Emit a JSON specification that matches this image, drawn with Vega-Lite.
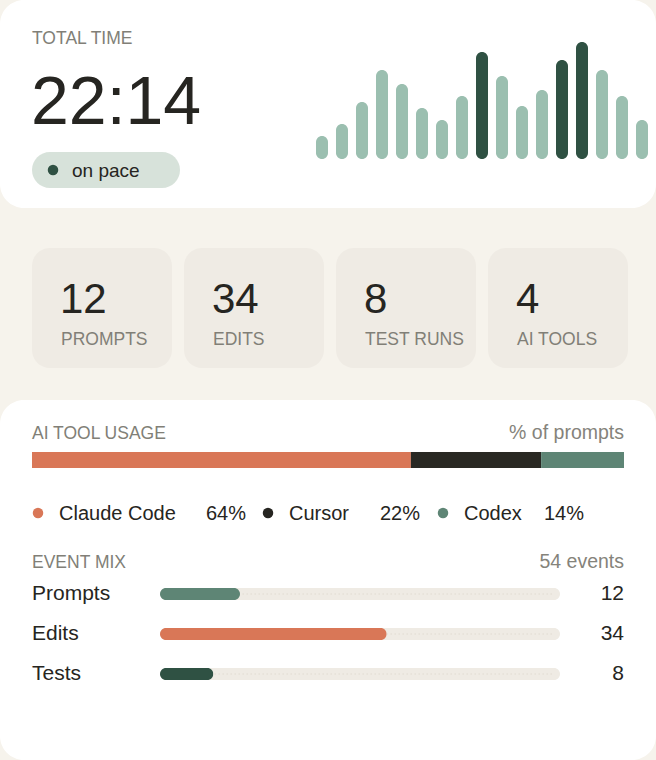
{
  "$schema": "https://vega.github.io/schema/vega-lite/v6.json",
  "background": "#f6f3ec",
  "padding": 0,
  "spacing": 0,
  "config": {"view": {"stroke": null}, "font": "Liberation Sans", "text": {"font": "Liberation Sans"}},
  "datasets": {
    "pace": [
      {"slot": 1, "minutes": 23, "phase": "steady"},
      {"slot": 2, "minutes": 35, "phase": "steady"},
      {"slot": 3, "minutes": 57, "phase": "steady"},
      {"slot": 4, "minutes": 89, "phase": "steady"},
      {"slot": 5, "minutes": 75, "phase": "steady"},
      {"slot": 6, "minutes": 51, "phase": "steady"},
      {"slot": 7, "minutes": 39, "phase": "steady"},
      {"slot": 8, "minutes": 63, "phase": "steady"},
      {"slot": 9, "minutes": 107, "phase": "peak"},
      {"slot": 10, "minutes": 83, "phase": "steady"},
      {"slot": 11, "minutes": 53, "phase": "steady"},
      {"slot": 12, "minutes": 69, "phase": "steady"},
      {"slot": 13, "minutes": 99, "phase": "peak"},
      {"slot": 14, "minutes": 117, "phase": "peak"},
      {"slot": 15, "minutes": 89, "phase": "steady"},
      {"slot": 16, "minutes": 63, "phase": "steady"},
      {"slot": 17, "minutes": 39, "phase": "steady"}
    ],
    "summary": [{"label": "TOTAL TIME", "time": "22:14", "status": "on pace"}],
    "stats": [
      {"stat": "PROMPTS", "count": 12},
      {"stat": "EDITS", "count": 34},
      {"stat": "TEST RUNS", "count": 8},
      {"stat": "AI TOOLS", "count": 4}
    ],
    "tools": [
      {"tool": "Claude Code", "share": 0.64, "order": 1},
      {"tool": "Cursor", "share": 0.22, "order": 2},
      {"tool": "Codex", "share": 0.14, "order": 3}
    ],
    "sections": [
      {"section": "AI TOOL USAGE", "note": "% of prompts"},
      {"section": "EVENT MIX", "note": "54 events"}
    ],
    "events": [
      {"event": "Prompts", "count": 12},
      {"event": "Edits", "count": 34},
      {"event": "Tests", "count": 8}
    ]
  },
  "vconcat": [
    {
      "width": 656,
      "height": 208,
      "view": {"fill": "#ffffff", "cornerRadius": 24, "stroke": null},
      "layer": [
        {
          "data": {"name": "pace"},
          "mark": {"type": "bar", "cornerRadius": 6},
          "encoding": {
            "x": {"field": "slot", "type": "ordinal", "axis": null, "scale": {"range": [316, 648], "paddingInner": 0.4, "paddingOuter": 0}},
            "y": {"field": "minutes", "type": "quantitative", "axis": null, "scale": {"domain": [0, 117], "range": [159, 42], "nice": false}},
            "color": {"field": "phase", "type": "nominal", "legend": null, "scale": {"domain": ["steady", "peak"], "range": ["#9bbfb0", "#2f5143"]}}
          }
        },
        {
          "data": {"name": "summary"},
          "mark": {"type": "rect", "cornerRadius": 18, "color": "#d7e2da"},
          "encoding": {
            "x": {"field": "status", "type": "nominal", "axis": null, "scale": {"type": "band", "range": [32, 180], "paddingInner": 0, "paddingOuter": 0}},
            "y": {"field": "status", "type": "nominal", "axis": null, "scale": {"type": "band", "range": [152, 188], "paddingInner": 0, "paddingOuter": 0}}
          }
        },
        {
          "data": {"name": "summary"},
          "mark": {"type": "circle", "size": 110, "color": "#2f5143", "opacity": 1, "xOffset": 21},
          "encoding": {
            "x": {"field": "status", "type": "nominal", "axis": null, "bandPosition": 0, "scale": {"type": "band", "range": [32, 180], "paddingInner": 0, "paddingOuter": 0}},
            "y": {"field": "status", "type": "nominal", "axis": null, "bandPosition": 0.5, "scale": {"type": "band", "range": [152, 188], "paddingInner": 0, "paddingOuter": 0}}
          }
        },
        {
          "data": {"name": "summary"},
          "mark": {"type": "text", "align": "left", "baseline": "alphabetic", "dx": 40, "dy": 7, "fontSize": 19, "color": "#262521"},
          "encoding": {
            "x": {"field": "status", "type": "nominal", "axis": null, "bandPosition": 0, "scale": {"type": "band", "range": [32, 180], "paddingInner": 0, "paddingOuter": 0}},
            "y": {"field": "status", "type": "nominal", "axis": null, "bandPosition": 0.5, "scale": {"type": "band", "range": [152, 188], "paddingInner": 0, "paddingOuter": 0}},
            "text": {"field": "status"}
          }
        },
        {
          "data": {"name": "summary"},
          "mark": {"type": "text", "align": "left", "baseline": "alphabetic", "fontSize": 17.5, "color": "#817f77"},
          "encoding": {
            "x": {"field": "label", "type": "nominal", "axis": null, "bandPosition": 0, "scale": {"type": "band", "range": [32, 176], "paddingInner": 0, "paddingOuter": 0}},
            "y": {"field": "label", "type": "nominal", "axis": null, "bandPosition": 1, "scale": {"type": "band", "range": [30, 44], "paddingInner": 0, "paddingOuter": 0}},
            "text": {"field": "label"}
          }
        },
        {
          "data": {"name": "summary"},
          "mark": {"type": "text", "align": "left", "baseline": "alphabetic", "fontSize": 68, "color": "#262521"},
          "encoding": {
            "x": {"field": "time", "type": "nominal", "axis": null, "bandPosition": 0, "scale": {"type": "band", "range": [31, 200], "paddingInner": 0, "paddingOuter": 0}},
            "y": {"field": "time", "type": "nominal", "axis": null, "bandPosition": 1, "scale": {"type": "band", "range": [76, 124], "paddingInner": 0, "paddingOuter": 0}},
            "text": {"field": "time"}
          }
        }
      ],
      "resolve": {"scale": {"x": "independent", "y": "independent", "color": "independent"}}
    },
    {
      "width": 656,
      "height": 40,
      "data": {"values": []},
      "mark": "rect",
      "encoding": {}
    },
    {
      "width": 656,
      "height": 120,
      "data": {"name": "stats"},
      "layer": [
        {
          "mark": {"type": "rect", "cornerRadius": 18, "color": "#efebe4"},
          "encoding": {
            "x": {"field": "stat", "type": "nominal", "axis": null, "scale": {"type": "band", "domain": ["PROMPTS", "EDITS", "TEST RUNS", "AI TOOLS"], "range": [32, 628], "paddingInner": 0.079, "paddingOuter": 0}}
          }
        },
        {
          "mark": {"type": "text", "align": "left", "baseline": "alphabetic", "dx": 28, "dy": 5, "fontSize": 42, "color": "#262521"},
          "encoding": {
            "x": {"field": "stat", "type": "nominal", "axis": null, "bandPosition": 0, "scale": {"type": "band", "domain": ["PROMPTS", "EDITS", "TEST RUNS", "AI TOOLS"], "range": [32, 628], "paddingInner": 0.079, "paddingOuter": 0}},
            "text": {"field": "count"}
          }
        },
        {
          "mark": {"type": "text", "align": "left", "baseline": "alphabetic", "dx": 29, "dy": 37, "fontSize": 17.5, "color": "#817f77"},
          "encoding": {
            "x": {"field": "stat", "type": "nominal", "axis": null, "bandPosition": 0, "scale": {"type": "band", "domain": ["PROMPTS", "EDITS", "TEST RUNS", "AI TOOLS"], "range": [32, 628], "paddingInner": 0.079, "paddingOuter": 0}},
            "text": {"field": "stat"}
          }
        }
      ]
    },
    {
      "width": 656,
      "height": 32,
      "data": {"values": []},
      "mark": "rect",
      "encoding": {}
    },
    {
      "width": 656,
      "height": 360,
      "view": {"fill": "#ffffff", "cornerRadius": 24, "stroke": null},
      "layer": [
        {
          "data": {"name": "tools"},
          "mark": {"type": "bar"},
          "encoding": {
            "x": {"field": "share", "type": "quantitative", "stack": "zero", "axis": null, "scale": {"domain": [0, 1], "range": [32, 624], "nice": false}},
            "y": {"datum": "share", "type": "nominal", "axis": null, "scale": {"type": "band", "range": [52, 68], "paddingInner": 0, "paddingOuter": 0}},
            "color": {"field": "tool", "type": "nominal", "legend": null, "scale": {"domain": ["Claude Code", "Cursor", "Codex"], "range": ["#d97757", "#292823", "#5e8575"]}},
            "order": {"field": "order", "type": "quantitative"}
          }
        },
        {
          "data": {"name": "sections"},
          "mark": {"type": "text", "align": "left", "baseline": "alphabetic", "fontSize": 17.5, "color": "#817f77"},
          "encoding": {
            "x": {"datum": 0, "type": "quantitative", "axis": null, "scale": {"domain": [0, 1], "range": [32, 624], "nice": false}},
            "y": {"field": "section", "type": "nominal", "axis": null, "scale": {"type": "point", "domain": ["AI TOOL USAGE", "EVENT MIX"], "range": [39, 168], "padding": 0}},
            "text": {"field": "section"}
          }
        },
        {
          "data": {"name": "sections"},
          "mark": {"type": "text", "align": "right", "baseline": "alphabetic", "fontSize": 19.5, "color": "#85837b"},
          "encoding": {
            "x": {"datum": 1, "type": "quantitative", "axis": null, "scale": {"domain": [0, 1], "range": [32, 624], "nice": false}},
            "y": {"field": "section", "type": "nominal", "axis": null, "scale": {"type": "point", "domain": ["AI TOOL USAGE", "EVENT MIX"], "range": [39, 168], "padding": 0}},
            "text": {"field": "note"}
          }
        },
        {
          "data": {"name": "tools"},
          "mark": {"type": "circle", "size": 110, "opacity": 1, "yOffset": -67},
          "encoding": {
            "x": {"field": "order", "type": "quantitative", "axis": null, "scale": {"domain": [1, 2, 3], "range": [38, 268, 443], "nice": false, "zero": false}},
            "color": {"field": "tool", "type": "nominal", "legend": null, "scale": {"domain": ["Claude Code", "Cursor", "Codex"], "range": ["#d97757", "#262521", "#5e8575"]}}
          }
        },
        {
          "data": {"name": "tools"},
          "mark": {"type": "text", "align": "left", "baseline": "alphabetic", "dx": 21, "dy": -60, "fontSize": 20, "color": "#262521"},
          "encoding": {
            "x": {"field": "order", "type": "quantitative", "axis": null, "scale": {"domain": [1, 2, 3], "range": [38, 268, 443], "nice": false, "zero": false}},
            "text": {"field": "tool"}
          }
        },
        {
          "data": {"name": "tools"},
          "mark": {"type": "text", "align": "right", "baseline": "alphabetic", "dy": -60, "fontSize": 20, "color": "#262521"},
          "encoding": {
            "x": {"field": "order", "type": "quantitative", "axis": null, "scale": {"domain": [1, 2, 3], "range": [246, 420, 584], "nice": false, "zero": false}},
            "text": {"field": "share", "format": ".0%"}
          }
        },
        {
          "data": {"name": "events"},
          "mark": {"type": "text", "align": "left", "baseline": "alphabetic", "dy": 6, "fontSize": 21, "color": "#262521"},
          "encoding": {
            "x": {"datum": 0, "type": "quantitative", "axis": null, "scale": {"domain": [0, 1], "range": [32, 624], "nice": false}},
            "y": {"field": "event", "type": "nominal", "axis": null, "scale": {"type": "band", "domain": ["Prompts", "Edits", "Tests"], "range": [174, 294], "paddingInner": 0.7, "paddingOuter": 0.35}},
            "text": {"field": "event"}
          }
        },
        {
          "data": {"name": "events"},
          "mark": {"type": "text", "align": "right", "baseline": "alphabetic", "dy": 6, "fontSize": 21, "color": "#262521"},
          "encoding": {
            "x": {"datum": 1, "type": "quantitative", "axis": null, "scale": {"domain": [0, 1], "range": [32, 624], "nice": false}},
            "y": {"field": "event", "type": "nominal", "axis": null, "scale": {"type": "band", "domain": ["Prompts", "Edits", "Tests"], "range": [174, 294], "paddingInner": 0.7, "paddingOuter": 0.35}},
            "text": {"field": "count"}
          }
        },
        {
          "data": {"name": "events"},
          "mark": {"type": "bar", "cornerRadius": 6, "color": "#efebe4"},
          "encoding": {
            "x": {"datum": 60, "type": "quantitative", "axis": null, "scale": {"domain": [0, 60], "range": [160, 560], "nice": false}},
            "y": {"field": "event", "type": "nominal", "axis": null, "scale": {"type": "band", "domain": ["Prompts", "Edits", "Tests"], "range": [174, 294], "paddingInner": 0.7, "paddingOuter": 0.35}}
          }
        },
        {
          "data": {"name": "events"},
          "mark": {"type": "rule", "color": "#d9d3c7", "strokeDash": [1, 3], "strokeWidth": 1},
          "encoding": {
            "x": {"datum": 1, "type": "quantitative", "axis": null, "scale": {"domain": [0, 60], "range": [160, 560], "nice": false}},
            "x2": {"datum": 59},
            "y": {"field": "event", "type": "nominal", "axis": null, "bandPosition": 0.5, "scale": {"type": "band", "domain": ["Prompts", "Edits", "Tests"], "range": [174, 294], "paddingInner": 0.7, "paddingOuter": 0.35}}
          }
        },
        {
          "data": {"name": "events"},
          "mark": {"type": "bar", "cornerRadius": 6},
          "encoding": {
            "x": {"field": "count", "type": "quantitative", "axis": null, "scale": {"domain": [0, 60], "range": [160, 560], "nice": false}},
            "y": {"field": "event", "type": "nominal", "axis": null, "scale": {"type": "band", "domain": ["Prompts", "Edits", "Tests"], "range": [174, 294], "paddingInner": 0.7, "paddingOuter": 0.35}},
            "color": {"field": "event", "type": "nominal", "legend": null, "scale": {"domain": ["Prompts", "Edits", "Tests"], "range": ["#5e8575", "#d97757", "#2f5143"]}}
          }
        }
      ],
      "resolve": {"scale": {"x": "independent", "y": "independent", "color": "independent"}}
    }
  ]
}
